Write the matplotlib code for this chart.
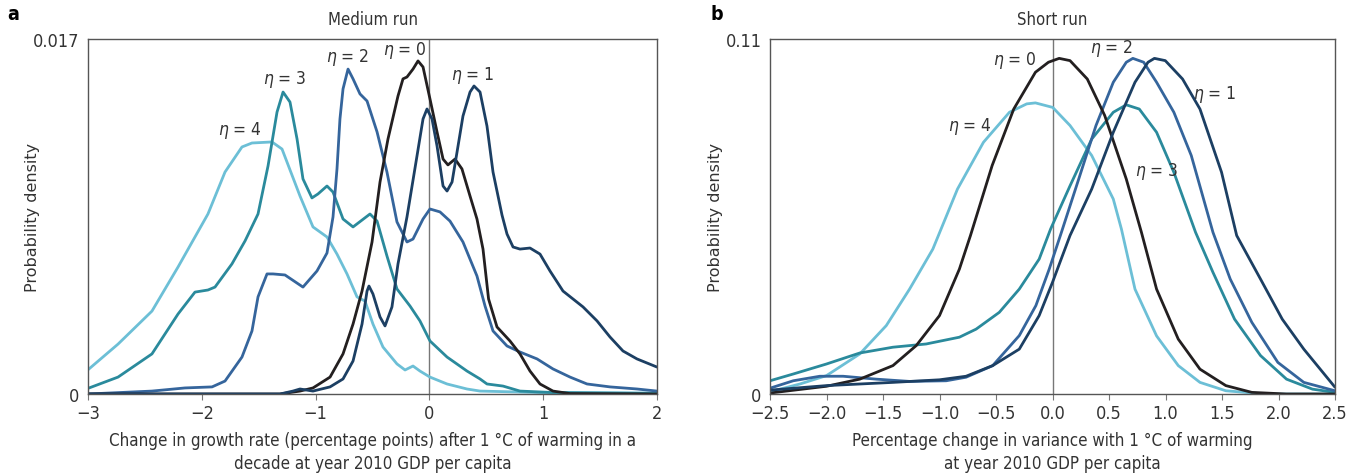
import numpy as np
import matplotlib
matplotlib.use("Agg")
import matplotlib.pyplot as plt

plt.rcParams['font.family'] = ['DejaVu Sans']
plt.rcParams['font.stretch'] = 'condensed'
plt.rcParams['mathtext.fontset'] = 'dejavusans'

# colours per eta
colors = {0: '#231f20', 1: '#1c3f63', 2: '#35659c', 3: '#2a8a9c', 4: '#6cbfd6'}

# ---- panel a: medium run (x = change in growth rate, y = density)
med_x4 = [-3.0, -2.736, -2.438, -2.209, -1.946, -1.796, -1.647, -1.559, -1.383, -1.295, -1.137,
          -1.023, -0.900, -0.812, -0.724, -0.636, -0.566, -0.496, -0.408, -0.285, -0.214, -0.144,
          -0.083, 0.005, 0.155, 0.330, 0.445, 0.97, 2.0]
med_y4 = [0.00116, 0.00239, 0.00397, 0.00608, 0.00862, 0.01063, 0.01183, 0.01202, 0.01207, 0.01173,
          0.00948, 0.00800, 0.00752, 0.00670, 0.00575, 0.00465, 0.00445, 0.00335, 0.00225, 0.00144,
          0.00115, 0.00134, 0.00110, 0.00081, 0.00048, 0.00024, 0.00014, 0.00007, 0.00005]

med_x3 = [-3.0, -2.736, -2.438, -2.209, -2.060, -1.946, -1.884, -1.735, -1.620, -1.506, -1.418,
          -1.339, -1.286, -1.225, -1.163, -1.111, -1.032, -0.979, -0.900, -0.847, -0.759, -0.671,
          -0.522, -0.460, -0.373, -0.285, -0.170, -0.083, 0.005, 0.155, 0.330, 0.445, 0.506,
          0.647, 0.796, 1.086, 2.0]
med_y3 = [0.00027, 0.00081, 0.00192, 0.00383, 0.00488, 0.00498, 0.00512, 0.00623, 0.00733, 0.00862,
          0.01092, 0.01350, 0.01446, 0.01398, 0.01221, 0.01030, 0.00939, 0.00958, 0.00996, 0.00967,
          0.00838, 0.00800, 0.00862, 0.00828, 0.00661, 0.00503, 0.00421, 0.00350, 0.00254, 0.00177,
          0.00110, 0.00072, 0.00048, 0.00038, 0.00014, 0.00007, 0.00002]

med_x2 = [-3.0, -2.438, -2.148, -1.910, -1.796, -1.647, -1.559, -1.506, -1.427, -1.374, -1.269,
          -1.111, -0.988, -0.900, -0.847, -0.812, -0.786, -0.759, -0.715, -0.671, -0.610, -0.548,
          -0.460, -0.373, -0.285, -0.197, -0.144, -0.056, 0.005, 0.093, 0.181, 0.295, 0.418, 0.489,
          0.559, 0.682, 0.796, 0.946, 1.086, 1.236, 1.385, 1.587, 1.824, 2.0]
med_y2 = [0.0, 0.00014, 0.00029, 0.00034, 0.00062, 0.00177, 0.00302, 0.00465, 0.00575, 0.00575,
          0.00570, 0.00512, 0.00589, 0.00675, 0.00848, 0.01078, 0.01317, 0.01461, 0.01556, 0.01509,
          0.01437, 0.01403, 0.01255, 0.01063, 0.00824, 0.00728, 0.00742, 0.00838, 0.00886, 0.00872,
          0.00828, 0.00728, 0.00565, 0.00421, 0.00302, 0.00230, 0.00201, 0.00168, 0.00120, 0.00081,
          0.00048, 0.00034, 0.00024, 0.00014]

med_x0 = [-3.0, -1.313, -1.137, -1.023, -0.873, -0.759, -0.671, -0.592, -0.504, -0.434, -0.364,
          -0.276, -0.232, -0.197, -0.144, -0.100, -0.056, 0.005, 0.067, 0.120, 0.163, 0.225, 0.286,
          0.357, 0.418, 0.471, 0.520, 0.594, 0.708, 0.796, 0.884, 0.972, 1.086, 1.236, 2.0]
med_y0 = [0.0, 0.0, 0.00014, 0.00029, 0.00081, 0.00192, 0.00335, 0.00493, 0.00728, 0.01015, 0.01221,
          0.01427, 0.01509, 0.01518, 0.01556, 0.01595, 0.01566, 0.01413, 0.01255, 0.01125, 0.01097,
          0.01125, 0.01078, 0.00948, 0.00838, 0.00694, 0.00455, 0.00321, 0.00254, 0.00192, 0.00110,
          0.00048, 0.00014, 0.00002, 0.0]

med_x1 = [-3.0, -1.313, -1.199, -1.137, -1.023, -0.873, -0.759, -0.671, -0.592, -0.548, -0.531,
          -0.496, -0.434, -0.390, -0.329, -0.276, -0.197, -0.109, -0.056, -0.021, 0.023, 0.067,
          0.120, 0.155, 0.199, 0.243, 0.295, 0.357, 0.392, 0.445, 0.506, 0.559, 0.638, 0.682, 0.735,
          0.796, 0.884, 0.972, 1.060, 1.174, 1.350, 1.473, 1.587, 1.701, 1.824, 2.0]
med_y1 = [0.0, 0.0, 0.00014, 0.00024, 0.00014, 0.00034, 0.00072, 0.00158, 0.00335, 0.00493, 0.00517,
          0.00479, 0.00369, 0.00326, 0.00417, 0.00623, 0.00848, 0.01140, 0.01317, 0.01365, 0.01317,
          0.01188, 0.00996, 0.00972, 0.01015, 0.01159, 0.01331, 0.01446, 0.01475, 0.01446, 0.01283,
          0.01063, 0.00857, 0.00766, 0.00704, 0.00694, 0.00699, 0.00670, 0.00589, 0.00493, 0.00417,
          0.00350, 0.00273, 0.00206, 0.00168, 0.00129]

# ---- panel b: short run (x = change in variance, y = density)
sh_x0 = [-2.5, -2.0, -1.706, -1.412, -1.206, -1.0, -0.824, -0.726, -0.534, -0.343, -0.151, -0.036,
         0.059, 0.155, 0.308, 0.462, 0.653, 0.787, 0.921, 1.113, 1.305, 1.534, 1.764, 2.07, 2.5]
sh_y0 = [0.0003, 0.0024, 0.0046, 0.0088, 0.0150, 0.0243, 0.0387, 0.0491, 0.0708, 0.0883, 0.0997,
         0.1028, 0.1040, 0.1033, 0.0976, 0.0863, 0.0666, 0.0501, 0.0325, 0.0170, 0.0077, 0.0026,
         0.0005, 0.0, 0.0]

sh_x4 = [-2.5, -2.235, -2.0, -1.706, -1.471, -1.265, -1.059, -0.841, -0.611, -0.381, -0.228, -0.151,
         0.002, 0.155, 0.347, 0.538, 0.610, 0.730, 0.921, 1.113, 1.305, 1.534, 1.88, 2.5]
sh_y4 = [0.0007, 0.0031, 0.0057, 0.0124, 0.0212, 0.0325, 0.0449, 0.0635, 0.0780, 0.0873, 0.0899,
         0.0902, 0.0888, 0.0832, 0.0739, 0.0604, 0.0511, 0.0325, 0.0180, 0.0088, 0.0036, 0.0010,
         0.0, 0.0]

sh_x1 = [-2.5, -2.0, -1.412, -1.0, -0.765, -0.529, -0.294, -0.118, 0.0, 0.066, 0.155, 0.347, 0.538,
         0.730, 0.845, 0.902, 0.998, 1.151, 1.305, 1.496, 1.630, 1.841, 2.033, 2.224, 2.5]
sh_y1 = [0.0012, 0.0026, 0.0036, 0.0044, 0.0055, 0.0088, 0.0139, 0.0243, 0.0346, 0.0408, 0.0491,
         0.0635, 0.0811, 0.0966, 0.1028, 0.1040, 0.1033, 0.0976, 0.0883, 0.0687, 0.0491, 0.0356,
         0.0232, 0.0139, 0.0021]

sh_x2 = [-2.5, -2.294, -2.059, -1.853, -1.559, -1.265, -0.941, -0.765, -0.529, -0.294, -0.147,
         -0.029, 0.079, 0.232, 0.385, 0.538, 0.653, 0.711, 0.807, 0.921, 1.074, 1.228, 1.420, 1.573,
         1.764, 1.994, 2.224, 2.5]
sh_y2 = [0.0018, 0.0041, 0.0055, 0.0055, 0.0046, 0.0039, 0.0041, 0.0052, 0.0088, 0.0181, 0.0274,
         0.0387, 0.0501, 0.0666, 0.0832, 0.0966, 0.1028, 0.1040, 0.1028, 0.0966, 0.0873, 0.0739,
         0.0501, 0.0356, 0.0222, 0.0098, 0.0036, 0.0010]

sh_x3 = [-2.5, -2.294, -2.0, -1.706, -1.412, -1.118, -0.824, -0.676, -0.471, -0.294, -0.118, -0.017,
         0.155, 0.347, 0.538, 0.653, 0.768, 0.921, 1.074, 1.266, 1.420, 1.611, 1.841, 2.071, 2.301, 2.5]
sh_y3 = [0.0041, 0.0062, 0.0093, 0.0127, 0.0145, 0.0155, 0.0176, 0.0201, 0.0253, 0.0325, 0.0418,
         0.0511, 0.0645, 0.0790, 0.0873, 0.0896, 0.0883, 0.0811, 0.0687, 0.0501, 0.0377, 0.0232,
         0.0119, 0.0046, 0.0015, 0.0005]

med_ticks = [-3, -2, -1, 0, 1, 2]
med_ticklabels = ['\u22123', '\u22122', '\u22121', '0', '1', '2']
sh_ticks = [-2.5, -2.0, -1.5, -1.0, -0.5, 0.0, 0.5, 1.0, 1.5, 2.0, 2.5]
sh_ticklabels = ['\u22122.5', '\u22122.0', '\u22121.5', '\u22121.0', '\u22120.5', '0.0',
                 '0.5', '1.0', '1.5', '2.0', '2.5']

med_labels = {4: (-1.664, 0.01269), 3: (-1.269, 0.01509), 2: (-0.715, 0.01614),
              0: (-0.214, 0.01652), 1: (0.383, 0.01532)}
sh_labels = {0: (-0.332, 0.1038), 2: (0.527, 0.1075), 1: (1.438, 0.0930),
             4: (-0.730, 0.0831), 3: (0.925, 0.0691)}

fig = plt.figure(figsize=(13.61, 4.77), dpi=100)
ax1 = fig.add_axes([88 / 1361, 82 / 477, 569 / 1361, 355 / 477])
ax2 = fig.add_axes([770 / 1361, 82 / 477, 565 / 1361, 355 / 477])

med = {4: (med_x4, med_y4), 3: (med_x3, med_y3), 2: (med_x2, med_y2),
       0: (med_x0, med_y0), 1: (med_x1, med_y1)}
sh = {4: (sh_x4, sh_y4), 3: (sh_x3, sh_y3), 2: (sh_x2, sh_y2),
      0: (sh_x0, sh_y0), 1: (sh_x1, sh_y1)}

text_col = '#333333'
for ax, series, labels, ymax, xlim, ticks, ticklabels, ytop, title, xlabel in [
    (ax1, med, med_labels, 0.017, (-3, 2), med_ticks, med_ticklabels, '0.017', 'Medium run',
     'Change in growth rate (percentage points) after 1 \u00b0C of warming in a\n'
     'decade at year 2010 GDP per capita'),
    (ax2, sh, sh_labels, 0.11, (-2.5, 2.5), sh_ticks, sh_ticklabels, '0.11', 'Short run',
     'Percentage change in variance with 1 \u00b0C of warming\nat year 2010 GDP per capita'),
]:
    ax.axvline(0, color='#777777', lw=1.0, zorder=1)
    for eta, (xs, ys) in series.items():
        ax.plot(xs, ys, color=colors[eta], lw=2.0, solid_joinstyle='round',
                solid_capstyle='round', zorder=2)
    for eta, (tx, ty) in labels.items():
        ax.text(tx, ty, r'$\eta$' + ' = %d' % eta, fontsize=12.5, color=text_col,
                ha='center', va='center')
    ax.set_xlim(*xlim)
    ax.set_ylim(0, ymax)
    ax.set_xticks(ticks)
    ax.set_xticklabels(ticklabels)
    ax.set_yticks([0, ymax])
    ax.set_yticklabels(['0', ytop])
    ax.tick_params(axis='x', direction='out', length=4, width=0.8, color='#777777',
                   labelsize=13, labelcolor=text_col, pad=3)
    ax.tick_params(axis='y', length=0, labelsize=13, labelcolor=text_col, pad=6)
    for sp in ax.spines.values():
        sp.set_color('#555555')
        sp.set_linewidth(1.0)
    ax.set_title(title, fontsize=12, color=text_col, pad=11)
    ax.set_xlabel(xlabel, fontsize=12.2, color=text_col, labelpad=7, linespacing=1.35)
    ax.set_ylabel('Probability density', fontsize=11.5, color=text_col, fontstretch='normal')
    ax.yaxis.set_label_coords(-0.084, 0.5)

fig.text(13 / 1361, 1 - 15 / 477, 'a', fontsize=14, fontweight='bold', ha='center', va='center')
fig.text(717 / 1361, 1 - 15 / 477, 'b', fontsize=14, fontweight='bold', ha='center', va='center')

fig.savefig('out.png', dpi=100)
